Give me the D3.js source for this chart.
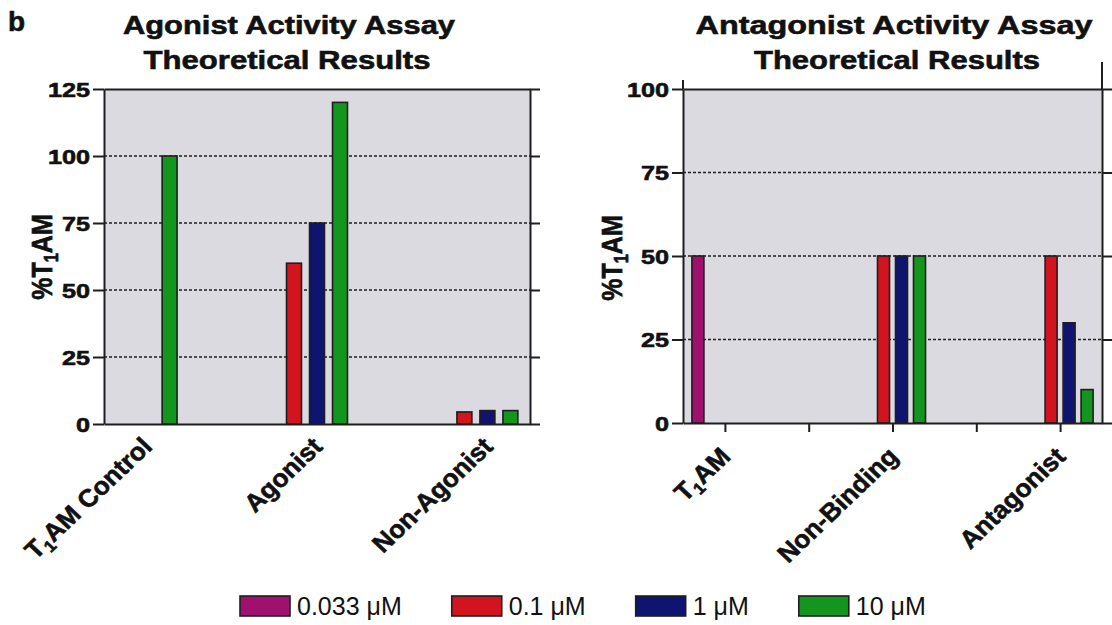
<!DOCTYPE html>
<html>
<head>
<meta charset="utf-8">
<script src="https://cdn.jsdelivr.net/npm/d3@7"></script>
<style>
  body { margin: 0; background: #fff; }
  svg { display: block; }
  text { font-family: "Liberation Sans", Arial, sans-serif; }
  .heavy { font-weight: bold; stroke: #111; stroke-width: 0.6px; fill: #111; }
</style>
</head>
<body>
<div id="chart"></div>
<script>
// series shared by both panels
const seriesNames = ["0.033 μM", "0.1 μM", "1 μM", "10 μM"];
const seriesColors = ["#A0106E", "#D2141E", "#0E1470", "#14961E"];

// agonist panel
const agonistCategories = ["T1AM Control", "Agonist", "Non-Agonist"];
const agonistSeries = ["0.1 μM", "1 μM", "10 μM"];
const agonist01 = [null, 60, 4.5];
const agonist1 = [null, 75, 5];
const agonist10 = [100, 120, 5];
const agonistTicks = [0, 25, 50, 75, 100, 125];

// antagonist panel (slots between the categories carry only a tick)
const antagonistSlots = ["T1AM", "gap1", "Non-Binding", "gap2", "Antagonist"];
const antagonistCategories = ["T1AM", "Non-Binding", "Antagonist"];
const antagonist0033 = [50, null, null];
const antagonist01 = [null, 50, 50];
const antagonist1 = [null, 50, 30];
const antagonist10 = [null, 50, 10];
const antagonistTicks = [0, 25, 50, 75, 100];

const width = 1112, height = 625;
const ink = "#1e1e1e";
const plotFill = "#DADAE0";
const stretch = 1.2;   // the original figure's lettering is widened

const svg = d3.select("#chart").append("svg")
  .attr("width", width)
  .attr("height", height);

svg.append("rect")
  .attr("width", "100%")
  .attr("height", "100%")
  .attr("fill", "#fff");

// writes a string into a text element, with "T1" rendered as T + subscript 1
function writeLabel(sel, str, size) {
  let pendingDy = 0;
  str.split(/(T1)/).forEach(p => {
    if (!p) return;
    if (p === "T1") {
      sel.append("tspan").attr("dy", pendingDy || null).text("T");
      sel.append("tspan").attr("font-size", size * 0.65).attr("dy", size * 0.2).text("1");
      pendingDy = -size * 0.2;
    } else {
      sel.append("tspan").attr("dy", pendingDy || null).text(p);
      pendingDy = 0;
    }
  });
}

function drawPanel(cfg) {
  const g = svg.append("g");

  const x = d3.scalePoint()
    .domain(cfg.slots)
    .range([cfg.left, cfg.right])
    .padding(cfg.xPadding);

  const y = d3.scaleLinear()
    .domain([0, cfg.yMax])
    .range([cfg.bottom, cfg.top]);

  const x1 = d3.scaleBand()
    .domain(cfg.seriesKeys)
    .range([-cfg.groupWidth / 2, cfg.groupWidth / 2])
    .paddingInner(cfg.barPadding)
    .paddingOuter(cfg.barPadding / 2);

  const color = d3.scaleOrdinal().domain(seriesNames).range(seriesColors);

  // plot background
  g.append("rect")
    .attr("x", cfg.left)
    .attr("y", cfg.top)
    .attr("width", cfg.right - cfg.left)
    .attr("height", cfg.bottom - cfg.top)
    .attr("fill", plotFill);

  // dashed grid
  g.selectAll(".grid")
    .data(cfg.ticks.filter(t => t > 0 && t < cfg.yMax))
    .enter()
    .append("line")
    .attr("x1", cfg.left)
    .attr("x2", cfg.right)
    .attr("y1", d => y(d))
    .attr("y2", d => y(d))
    .attr("stroke", ink)
    .attr("stroke-width", 1.6)
    .attr("stroke-dasharray", "3,2");

  // bars
  const bars = [];
  cfg.categories.forEach((c, i) => {
    cfg.seriesKeys.forEach((s, j) => {
      const v = cfg.values[j][i];
      if (v != null) bars.push({ c: c, s: s, v: v });
    });
  });

  g.selectAll(".bar")
    .data(bars)
    .enter()
    .append("rect")
    .attr("x", d => x(d.c) + x1(d.s))
    .attr("y", d => y(d.v))
    .attr("width", x1.bandwidth())
    .attr("height", d => y(0) - y(d.v))
    .attr("fill", d => color(d.s))
    .attr("stroke", ink)
    .attr("stroke-width", 1.6);

  // axes
  const axes = g.append("g").attr("color", ink);

  axes.append("g")
    .attr("transform", `translate(${cfg.left},0)`)
    .call(d3.axisLeft(y).tickValues(cfg.ticks).tickSize(11).tickSizeOuter(0).tickFormat(""));

  axes.append("g")
    .attr("transform", `translate(${cfg.right},0)`)
    .call(d3.axisRight(y).tickValues(cfg.ticks).tickSize(cfg.rightTick).tickSizeOuter(0).tickFormat(""));

  axes.append("g")
    .attr("transform", `translate(0,${cfg.top})`)
    .call(d3.axisTop(x).tickValues([]).tickSizeOuter(0));

  axes.append("g")
    .attr("transform", `translate(0,${cfg.bottom})`)
    .call(d3.axisBottom(x).tickValues(cfg.bottomTicks).tickSize(9).tickSizeOuter(0).tickFormat(""));

  // axis lines continuing above the frame
  axes.append("line")
    .attr("x1", cfg.left).attr("x2", cfg.left)
    .attr("y1", cfg.leftAxisTop).attr("y2", cfg.top)
    .attr("stroke", ink);
  axes.append("line")
    .attr("x1", cfg.right).attr("x2", cfg.right)
    .attr("y1", cfg.rightAxisTop).attr("y2", cfg.top)
    .attr("stroke", ink);

  axes.selectAll("path, line").attr("stroke-width", 2);

  // y tick labels
  g.selectAll(".ylab")
    .data(cfg.ticks)
    .enter()
    .append("text")
    .attr("class", "heavy")
    .attr("transform", d => `translate(${cfg.tickLabelEnd},${y(d)}) scale(${stretch},1)`)
    .attr("dy", "0.36em")
    .attr("text-anchor", "end")
    .style("font-size", "21px")
    .text(d => d);

  // category labels, slanted at 45 degrees
  g.selectAll(".xlab")
    .data(cfg.categories)
    .enter()
    .append("text")
    .attr("class", "heavy")
    .attr("transform", d => `translate(${x(d) + 7},${cfg.labelTop + 9}) scale(1.05,1) rotate(-45)`)
    .attr("text-anchor", "end")
    .style("font-size", "25px")
    .each(function (d) { writeLabel(d3.select(this), d, 25); });

  // y axis title
  g.append("text")
    .attr("class", "heavy")
    .attr("transform", `translate(${cfg.yTitleX},${cfg.yTitleY}) scale(${stretch},1) rotate(-90)`)
    .attr("text-anchor", "middle")
    .style("font-size", "25px")
    .call(t => writeLabel(t, "%T1AM", 25));

  // two-line title
  cfg.title.forEach(line => {
    g.append("text")
      .attr("class", "heavy")
      .attr("x", line.cx)
      .attr("y", line.y)
      .attr("text-anchor", "middle")
      .attr("textLength", line.len)
      .attr("lengthAdjust", "spacingAndGlyphs")
      .style("font-size", "26px")
      .text(line.text);
  });
}

drawPanel({
  left: 104, right: 530, top: 89, bottom: 424,
  yMax: 125, ticks: agonistTicks,
  slots: agonistCategories, xPadding: 0.25,
  categories: agonistCategories,
  seriesKeys: agonistSeries,
  values: [agonist01, agonist1, agonist10],
  groupWidth: 69, barPadding: 0.35,
  bottomTicks: [],
  rightTick: 10,
  leftAxisTop: 89, rightAxisTop: 89,
  tickLabelEnd: 90,
  labelTop: 439,
  yTitleX: 52, yTitleY: 257,
  title: [
    { text: "Agonist Activity Assay", cx: 289, y: 34, len: 332 },
    { text: "Theoretical Results", cx: 287, y: 69, len: 287 }
  ]
});

drawPanel({
  left: 683, right: 1102, top: 89, bottom: 423,
  yMax: 100, ticks: antagonistTicks,
  slots: antagonistSlots, xPadding: 0.5,
  categories: antagonistCategories,
  seriesKeys: seriesNames,
  values: [antagonist0033, antagonist01, antagonist1, antagonist10],
  groupWidth: 72, barPadding: 1 / 3,
  bottomTicks: antagonistSlots,
  rightTick: 14,
  leftAxisTop: 80, rightAxisTop: 62,
  tickLabelEnd: 669,
  labelTop: 449,
  yTitleX: 622, yTitleY: 258,
  title: [
    { text: "Antagonist Activity Assay", cx: 894, y: 34, len: 397 },
    { text: "Theoretical Results", cx: 897, y: 69, len: 286 }
  ]
});

// panel letter
svg.append("text")
  .attr("class", "heavy")
  .attr("x", 8)
  .attr("y", 31)
  .style("font-size", "28px")
  .text("b");

// legend, laid out left to right
const legend = svg.append("g");
let lx = 240;
seriesNames.forEach((name, i) => {
  legend.append("rect")
    .attr("x", lx)
    .attr("y", 596)
    .attr("width", 50)
    .attr("height", 20)
    .attr("fill", seriesColors[i])
    .attr("stroke", ink)
    .attr("stroke-width", 1.6);
  const t = legend.append("text")
    .attr("x", lx + 57)
    .attr("y", 615)
    .style("font-size", "25px")
    .attr("fill", "#111")
    .text(name);
  lx += 57 + t.node().getComputedTextLength() + 50;
});
</script>
</body>
</html>
